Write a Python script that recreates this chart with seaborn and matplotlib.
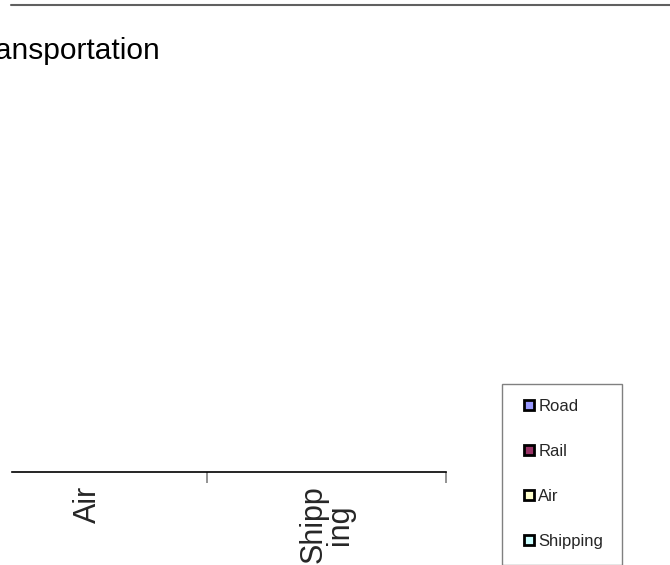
import matplotlib
matplotlib.use("Agg")
import matplotlib.pyplot as plt
from matplotlib.lines import Line2D
from matplotlib.patches import Rectangle
import seaborn as sns
import pandas as pd

# ---- data ----
categories = ["Road", "Rail", "Air", "Shipping"]
tick_labels = ["Road", "Rail", "Air", "Shipp\ning"]
series = ["Road", "Rail", "Air", "Shipping"]
values_road = [0, 0, 0, 0]
values_rail = [0, 0, 0, 0]
values_air = [0, 0, 0, 0]
values_shipping = [0, 0, 0, 0]
colors = ["#9999FF", "#993366", "#FFFFCC", "#CCFFFF"]
title = "Transportation"

sns.set_style("white")
plt.rcParams["font.family"] = ["Liberation Sans", "DejaVu Sans"]

rows = []
for s, vals in zip(series, [values_road, values_rail, values_air, values_shipping]):
    for c, v in zip(categories, vals):
        rows.append({"category": c, "series": s, "value": v})
df = pd.DataFrame(rows)

W, H = 670, 565
fig = plt.figure(figsize=(W / 100, H / 100), dpi=100)

def fx(px):
    return px / W

def fy(py):
    return (H - py) / H

ax_left, ax_right, ax_bottom, ax_top = 12, 446.5, 471.5, 100
ax = fig.add_axes([fx(ax_left), fy(ax_bottom), fx(ax_right - ax_left), (ax_bottom - ax_top) / H])

sns.barplot(data=df, x="category", y="value", hue="series", order=categories,
            hue_order=series, palette=colors, ax=ax, legend=False,
            edgecolor="black", linewidth=0)

for side in ["top", "right", "left"]:
    ax.spines[side].set_visible(False)
ax.spines["bottom"].set_color("black")
ax.spines["bottom"].set_linewidth(1.2)
ax.set_yticks([])
ax.set_xlabel("")
ax.set_ylabel("")
ax.set_xticks(range(len(categories)))
ax.set_xticklabels(tick_labels, rotation=90, fontsize=22, va="top", ha="center",
                   multialignment="center", linespacing=0.86)
ax.tick_params(axis="x", which="major", bottom=True, length=0, pad=10)
ax.set_xticks([i + 0.5 for i in range(len(categories))], minor=True)
ax.tick_params(axis="x", which="minor", bottom=True, length=8, color="#808080",
               width=1.2, direction="out")
ax.patch.set_alpha(0)

per_cat = 239.0
ax.set_xlim(3.5 - (ax_right - ax_left) / per_cat, 3.5)
ax.set_ylim(0, 1)

# top border line
fig.add_artist(Line2D([fx(11), fx(670)], [fy(5), fy(5)], color="#606060", lw=1.5))

# title (left part cut off)
fig.text(fx(160), fy(59), title, ha="right", va="baseline", fontsize=21.5, color="black")

# legend
handles = [Line2D([], [], marker="s", linestyle="", markersize=7,
                  markerfacecolor=c, markeredgecolor="black", markeredgewidth=2)
           for c in colors]
fig.legend(handles, series, loc="upper left", bbox_to_anchor=(fx(522.6), fy(399)),
           frameon=False, fontsize=12, borderpad=0, borderaxespad=0,
           handlelength=0.8, handletextpad=0.15, labelspacing=1.8)
fig.add_artist(Rectangle((fx(502), fy(565)), fx(622) - fx(502), fy(384) - fy(565),
                         transform=fig.transFigure, fill=False, edgecolor="#808080", lw=1))

fig.savefig("out.png", dpi=100)
